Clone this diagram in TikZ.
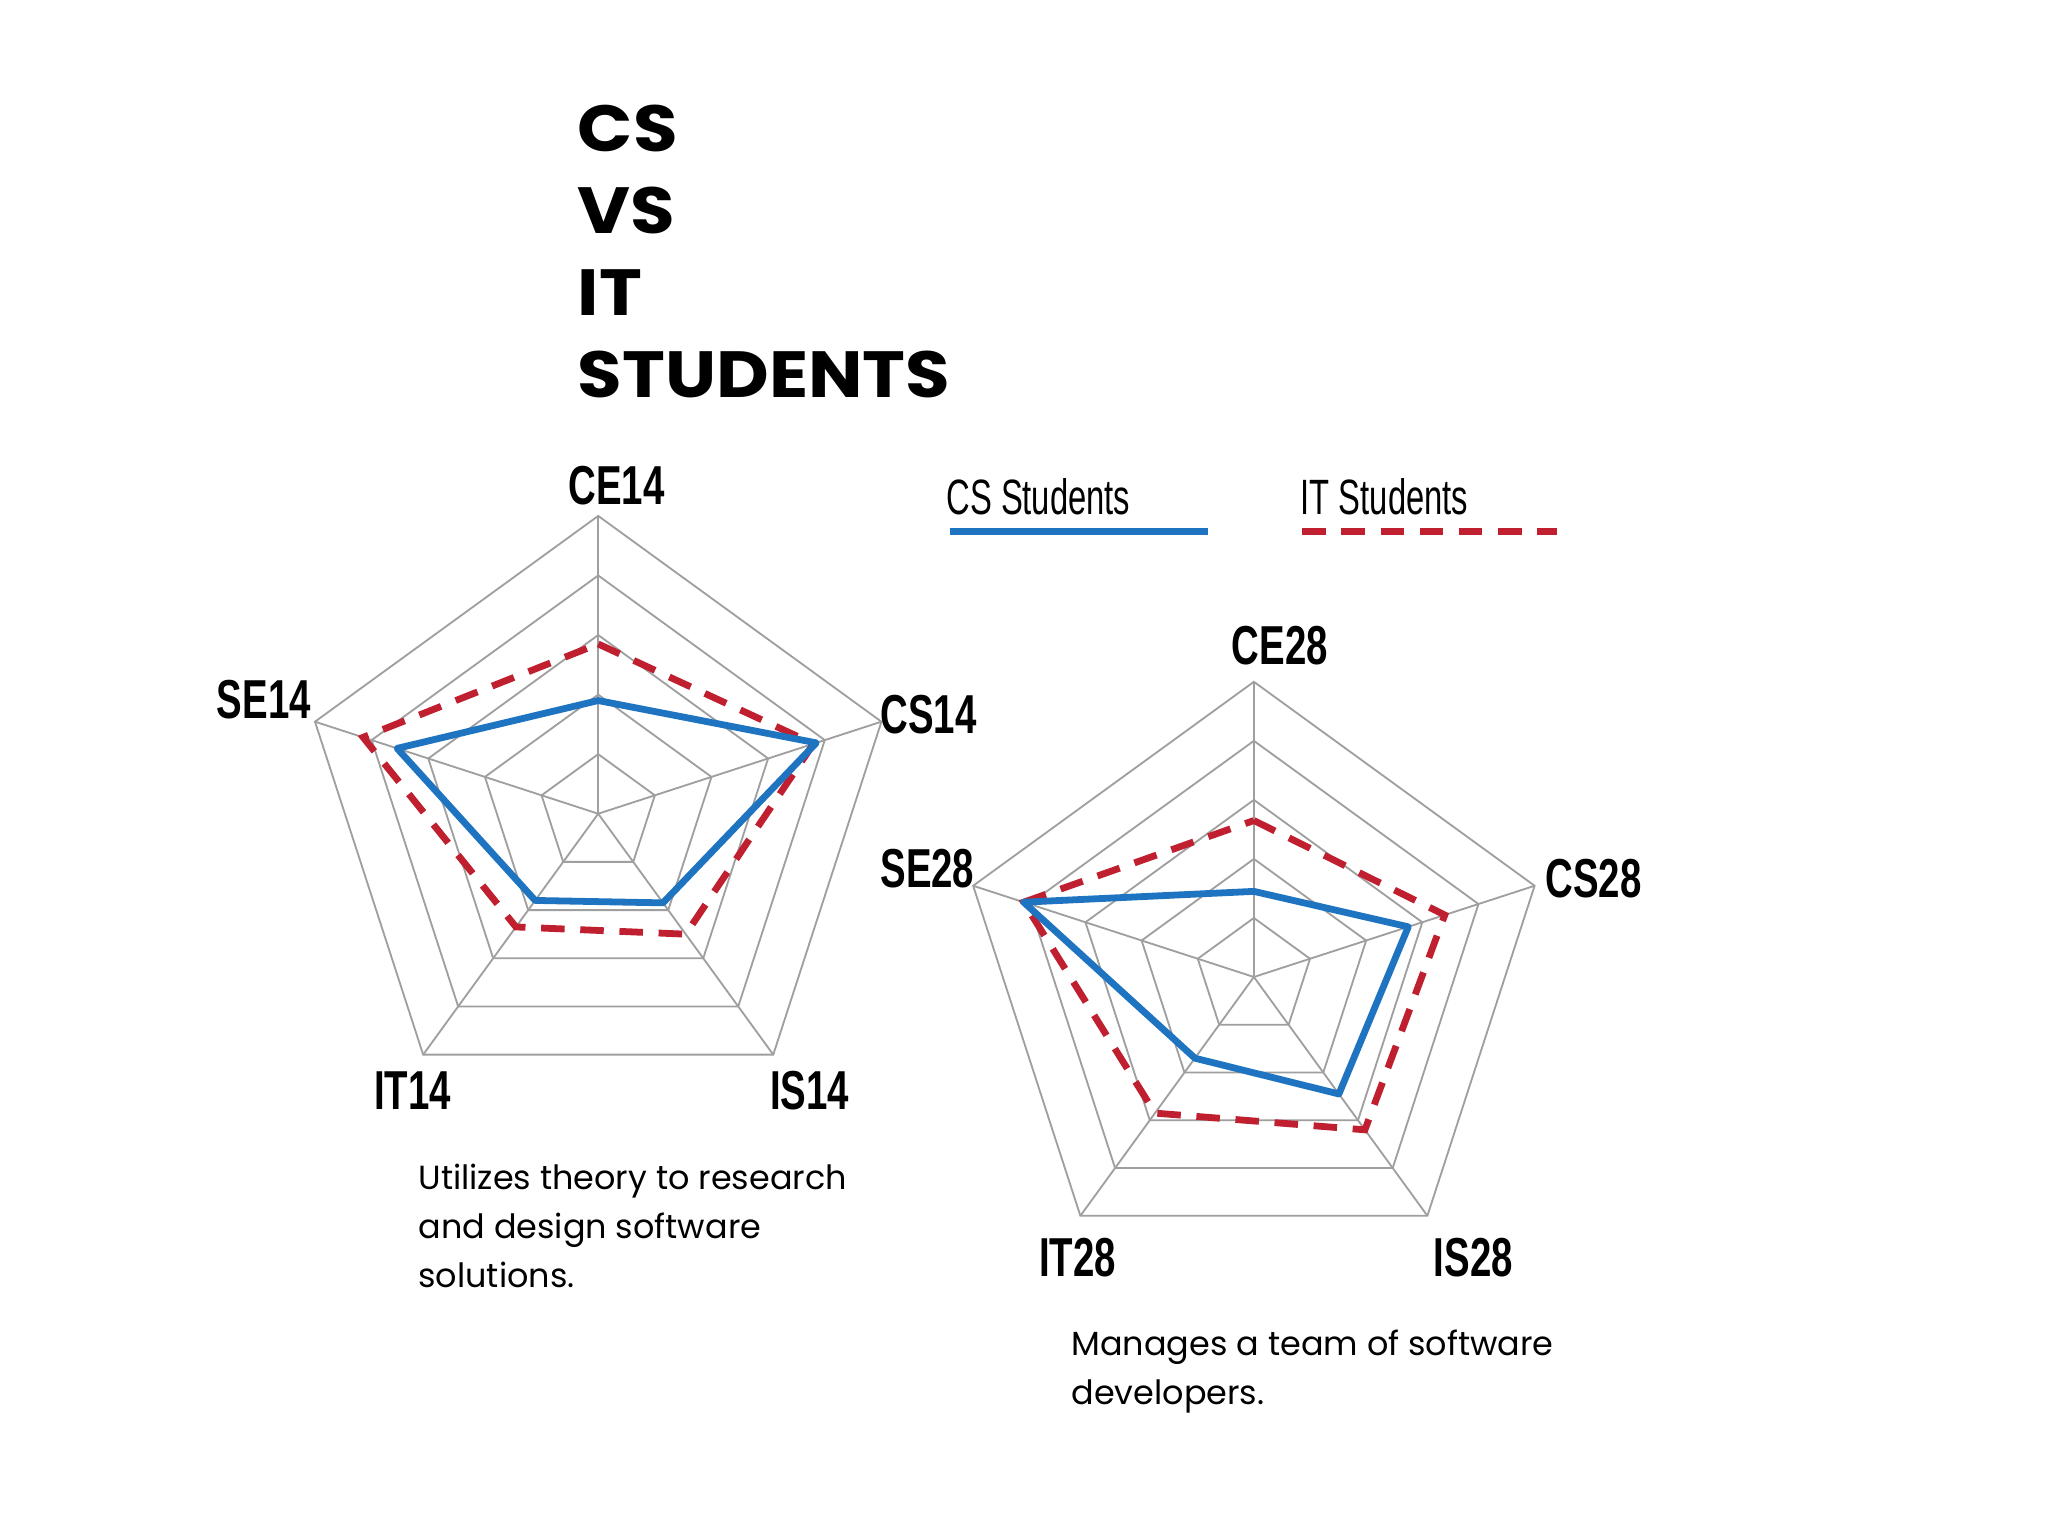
\documentclass[tikz,border=0pt]{standalone}
\usepackage{fontspec}
\setmainfont{Poppins}
\newfontfamily\labfont{Liberation Sans}
\definecolor{csblue}{HTML}{1E74C0}
\definecolor{itred}{HTML}{C01F30}
\tikzset{
  gridline/.style={draw=gray!75, line width=0.7pt},
  csline/.style={draw=csblue, line width=2.6pt, line join=round},
  itline/.style={draw=itred, line width=2.6pt, dash pattern=on 9pt off 6pt},
  axlab/.style={font=\labfont\bfseries\fontsize{21}{21}\selectfont, inner sep=0pt},
  leglab/.style={font=\labfont\fontsize{19}{19}\selectfont, inner sep=0pt},
  body/.style={font=\fontsize{12.8}{18.8}\selectfont, align=left, anchor=north west, inner sep=0pt}
}
\newcommand{\radar}[6]{%
  \begin{scope}[shift={(#1,#2)}]
  \foreach \k in {1,...,5}{
    \draw[gridline] (90:#3*\k/5) -- (18:#3*\k/5) -- (-54:#3*\k/5) -- (-126:#3*\k/5) -- (162:#3*\k/5) -- cycle;}
  \foreach \a in {90,18,-54,-126,162}{\draw[gridline] (0,0) -- (\a:#3);}
  \foreach \v [count=\i] in {#4}{\pgfmathsetmacro\ang{90-72*(\i-1)}\coordinate (#6c\i) at (\ang:#3*\v);}
  \foreach \v [count=\i] in {#5}{\pgfmathsetmacro\ang{90-72*(\i-1)}\coordinate (#6i\i) at (\ang:#3*\v);}
  \draw[itline] (#6i1)--(#6i2)--(#6i3)--(#6i4)--(#6i5)--cycle;
  \draw[csline] (#6c1)--(#6c2)--(#6c3)--(#6c4)--(#6c5)--cycle;
  \end{scope}
}
\begin{document}
\begin{tikzpicture}[x=0.5pt,y=-0.5pt]
\useasboundingbox[fill=white] (0,0) rectangle (1568,1176);
\foreach \t/\yy [count=\i] in {CS/98,VS/161,IT/224,STUDENTS/287}
  \node[anchor=west, inner sep=0pt, font=\bfseries\fontsize{25}{25}\selectfont] (title\i) at (442,\yy) {\scalebox{1.11}[1]{\t}};
\begin{scope}[y=0.5pt]
\radar{458}{-623}{228}{0.38,0.77,0.37,0.36,0.71}{0.57,0.76,0.5,0.47,0.83}{A}
\radar{960}{-748}{226}{0.29,0.55,0.49,0.34,0.82}{0.53,0.68,0.64,0.57,0.82}{B}
\end{scope}
\node[axlab] (ce14) at (472,372) {\scalebox{0.7}[1]{CE14}};
\node[axlab] (cs14) at (711,547) {\scalebox{0.7}[1]{CS14}};
\node[axlab] (is14) at (620,835) {\scalebox{0.7}[1]{IS14}};
\node[axlab] (it14) at (316,835) {\scalebox{0.7}[1]{IT14}};
\node[axlab] (se14) at (202,536) {\scalebox{0.7}[1]{SE14}};
\node[axlab] (ce28) at (980,494) {\scalebox{0.7}[1]{CE28}};
\node[axlab] (cs28) at (1220,673) {\scalebox{0.7}[1]{CS28}};
\node[axlab] (is28) at (1128,963) {\scalebox{0.7}[1]{IS28}};
\node[axlab] (it28) at (825,963) {\scalebox{0.7}[1]{IT28}};
\node[axlab] (se28) at (710,665) {\scalebox{0.7}[1]{SE28}};
\node[leglab] (lcs) at (795,380) {\scalebox{0.66}[1]{CS Students}};
\node[leglab] (lit) at (1060,380) {\scalebox{0.66}[1]{IT Students}};
\coordinate (lcsa) at (727,407); \coordinate (lcsb) at (925,407);
\coordinate (lita) at (997,407); \coordinate (litb) at (1192,407);
\draw[csline] (lcsa) -- (lcsb);
\draw[itline] (lita) -- (litb);
\node[body] (t1) at (320,891) {Utilizes theory to research\\and design software\\solutions.};
\node[body] (t2) at (820,1018) {Manages a team of software\\developers.};
\end{tikzpicture}
\end{document}
